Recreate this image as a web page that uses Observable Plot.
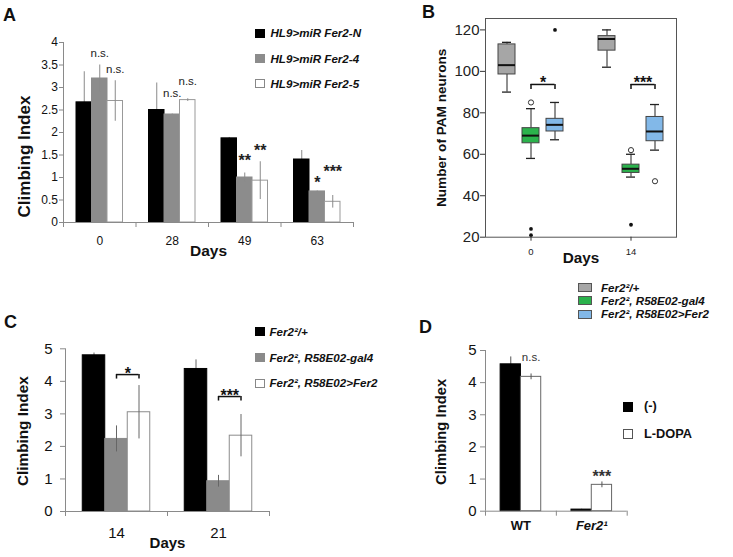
<!DOCTYPE html>
<html><head><meta charset="utf-8">
<script src="https://cdn.jsdelivr.net/npm/d3@7"></script>
<script src="https://cdn.jsdelivr.net/npm/@observablehq/plot@0.6"></script>
<style>
body{margin:0;background:#fff;}
#fig{position:relative;width:733px;height:557px;overflow:hidden;background:#fff;font-family:"Liberation Sans",Arial,Helvetica,sans-serif;color:#111;}
.abs{position:absolute;white-space:nowrap;line-height:1;}
.sw{position:absolute;box-sizing:border-box;}
</style></head><body><div id="fig"></div>
<script>
// ===================== DATA =====================
// Panel A - climbing index of HL9>miR Fer2 lines
const daysA = ["0", "28", "49", "63"];
const seriesA = ["HL9>miR Fer2-N", "HL9>miR Fer2-4", "HL9>miR Fer2-5"];
const meanA_N = [2.67, 2.50, 1.87, 1.40];
const semA_N  = [0.68, 0.60, 0.02, 0.20];
const meanA_4 = [3.20, 2.40, 1.00, 0.69];
const semA_4  = [0.30, 0.01, 0.10, 0.01];
const meanA_5 = [2.70, 2.72, 0.93, 0.46];
const semA_5  = [0.45, 0.03, 0.42, 0.14];
const sigA_4  = ["n.s.", "n.s.", "**", "*"];
const sigA_5  = ["n.s.", "n.s.", "**", "***"];
const yTicksA = [0, 0.5, 1, 1.5, 2, 2.5, 3, 3.5, 4];

// Panel B - number of PAM neurons (box plots)
const daysB = [0, 14];
const genotypes = ["Fer2²/+", "Fer2², R58E02-gal4", "Fer2², R58E02>Fer2"];
const minB_ctrl = [90, 102],   q1B_ctrl = [98.5, 110],  medB_ctrl = [103, 115.6], q3B_ctrl = [113, 117],  maxB_ctrl = [114, 120];
const minB_gal4 = [58, 49],    q1B_gal4 = [65.3, 51],   medB_gal4 = [69, 53],     q3B_gal4 = [72.6, 55], maxB_gal4 = [82, 60];
const minB_resc = [67, 62],    q1B_resc = [71, 66.3],   medB_resc = [74.2, 71],   q3B_resc = [77.1, 78], maxB_resc = [85, 84];
const openB_day = [0, 14, 14], openB_geno = [1, 1, 2], openB_val = [85, 62, 47];
const farB_day = [0, 0, 0, 14], farB_geno = [1, 1, 2, 1], farB_val = [24, 21, 120, 26];
const sigB = ["*", "***"];
const yTicksB = [20, 40, 60, 80, 100, 120];

// Panel C - climbing index, rescue
const daysC = ["14", "21"];
const meanC_ctrl = [4.80, 4.38], semC_ctrl = [0.07, 0.28];
const meanC_gal4 = [2.23, 0.93], semC_gal4 = [0.40, 0.18];
const meanC_resc = [3.05, 2.33], semC_resc = [0.82, 0.65];
const sigC = ["*", "***"];
const yTicksC = [0, 1, 2, 3, 4, 5];

// Panel D - L-DOPA feeding
const groupsD = ["WT", "Fer2¹"];
const treatD = ["(-)", "L-DOPA"];
const meanD_none = [4.57, 0.05], semD_none = [0.23, 0.01];
const meanD_dopa = [4.18, 0.82], semD_dopa = [0.09, 0.09];
const sigD = ["n.s.", "***"];
const yTicksD = [0, 1, 2, 3, 4, 5];

// ===================== HELPERS =====================
const FONT = '"Liberation Sans", Arial, Helvetica, sans-serif';
const fig = document.getElementById("fig");
const fmt = d => String(d);
function put(node, left, top) {
  node.style.position = "absolute";
  node.style.left = left + "px";
  node.style.top = top + "px";
  fig.appendChild(node);
  return node;
}
function htmlText(str, left, top, css) {
  const d = document.createElement("div");
  d.className = "abs";
  d.textContent = str;
  Object.assign(d.style, css || {});
  return put(d, left, top);
}
function legend(items, fills, strokes, swX, swW, swH, textX, ys, fs, italic) {
  items.forEach((t, i) => {
    const sw = document.createElement("div");
    sw.className = "sw";
    Object.assign(sw.style, {width: swW + "px", height: swH + "px", background: fills[i], border: "1px solid " + strokes[i]});
    put(sw, swX, ys[i] - swH / 2);
    htmlText(t, textX, ys[i] - fs / 2, {fontSize: fs + "px", fontWeight: "bold", fontStyle: italic ? "italic" : "normal"});
  });
}
function sigMark(x, yv, label, dx, lift, fs, fill) {
  const star = label.includes("*");
  const corr = star ? 0.255 * fs : -0.06 * fs;
  return Plot.text([label], {x: () => x, y: () => yv, text: d => d, dx, dy: -lift + corr,
    fontSize: fs, fontWeight: star ? "bold" : "normal", fill});
}
function bracket(x, base, dxA, dxB, lift, bw, leg, label, fs, textGap) {
  const st = {stroke: "#111", strokeWidth: 1.5};
  return [
    Plot.ruleY([0], {y: () => base, x1: () => x, x2: () => x, insetLeft: bw / 2 + dxA, insetRight: bw / 2 - dxB, dy: -lift, ...st}),
    Plot.ruleX([0], {x: () => x, y1: () => base, y2: () => base, dx: dxA, dy: -lift, insetBottom: -leg, ...st}),
    Plot.ruleX([0], {x: () => x, y1: () => base, y2: () => base, dx: dxB, dy: -lift, insetBottom: -leg, ...st}),
    sigMark(x, base, label, (dxA + dxB) / 2, lift + textGap, fs, "#111")
  ];
}
function yTitle(str, dx, dy, fs) {
  return Plot.text([str], {text: d => d, frameAnchor: "left", textAnchor: "middle", rotate: -90, dx, dy, fontWeight: "bold", fontSize: fs, fill: "#111"});
}
const svgStyle = {fontFamily: FONT, background: "transparent", overflow: "visible", color: "#111"};

// grouped bar panel (A, C, D)
function barPanel(c) {
  const bw = (c.width - c.ml - c.mr) / c.cats.length;
  const n = c.means.length;
  const off = i => (i - (n - 1) / 2) * c.barW;
  const marks = [];
  c.means.forEach((m, i) => {
    const rows = c.cats.map((cat, j) => ({cat, v: m[j], e: c.sems[i][j]}));
    const bar = Plot.barY(rows, {x: "cat", y: "v", fill: c.fills[i], stroke: c.strokes[i], strokeWidth: 1,
      insetLeft: bw / 2 + off(i) - c.barW / 2, insetRight: bw / 2 - off(i) - c.barW / 2});
    const err = Plot.ruleX(rows, {x: "cat", y1: r => r.v - r.e, y2: r => r.v + r.e, dx: off(i), stroke: c.errStroke, strokeWidth: 1});
    if (c.fills[i] === "#000") marks.push(err, bar); else marks.push(bar, err);
  });
  const ax = {stroke: c.axisStroke};
  marks.push(Plot.ruleY([0], ax));
  marks.push(Plot.ruleX([c.cats[0]], {x: d => d, dx: -bw / 2, ...ax}));
  marks.push(Plot.ruleX(c.cats, {x: d => d, y1: () => 0, y2: () => 0, dx: -bw / 2, insetBottom: -5, ...ax}));
  marks.push(Plot.ruleX([c.cats[c.cats.length - 1]], {x: d => d, y1: () => 0, y2: () => 0, dx: bw / 2, insetBottom: -5, ...ax}));
  marks.push(Plot.axisY({ticks: c.yTicks, tickFormat: fmt, tickSize: c.yTickSize, tickPadding: c.yTickPad, fontSize: c.yFs, stroke: c.axisStroke, fill: "#111", label: null}));
  return {bw, off, marks};
}

// ===================== PANEL A =====================
{
  const cfg = {cats: daysA, means: [meanA_N, meanA_4, meanA_5], sems: [semA_N, semA_4, semA_5],
    fills: ["#000", "#8c8c8c", "#fff"], strokes: ["#000", "#8c8c8c", "#999"], errStroke: "#8a8a8a", axisStroke: "#8a8a8a",
    width: 370, height: 270, ml: 63, mr: 17, mt: 42, mb: 48, barW: 15.5, yTicks: yTicksA, yTickSize: 4, yTickPad: 1.5, yFs: 12};
  const P = barPanel(cfg);
  const liftA_4 = [11, 20.5, 16, 12], liftA_5 = [11, 16.5, 15, 28];
  daysA.forEach((d, j) => {
    P.marks.push(sigMark(d, meanA_4[j] + semA_4[j], sigA_4[j], P.off(1), liftA_4[j], sigA_4[j].includes("*") ? 16 : 11.5, "#222"));
    P.marks.push(sigMark(d, meanA_5[j] + semA_5[j], sigA_5[j], P.off(2), liftA_5[j], sigA_5[j].includes("*") ? 16 : 11.5, "#222"));
  });
  P.marks.push(Plot.axisX({tickSize: 0, tickPadding: 13.8, fontSize: 12, fill: "#111", label: null}));
  P.marks.push(Plot.text(["Days"], {text: d => d, frameAnchor: "bottom", dy: 33, fontWeight: "bold", fontSize: 15.5}));
  P.marks.push(yTitle("Climbing Index", -39, 24, 17));
  const svg = Plot.plot({width: cfg.width, height: cfg.height, marginLeft: cfg.ml, marginRight: cfg.mr, marginTop: cfg.mt, marginBottom: cfg.mb,
    x: {type: "band", domain: daysA, padding: 0, round: false}, y: {domain: [0, 4], label: null}, style: svgStyle, marks: P.marks});
  put(svg, 0, 0);
}

// ===================== PANEL B =====================
{
  const W = 363, H = 280, ml = 115, mr = 57, mt = 18, mb = 43.3;
  const pi = 0.2, po = 0.055;
  const step = (W - ml - mr) / (daysB.length - pi + 2 * po);
  const bw = step * (1 - pi);
  const spacing = 24, boxW = 17, capW = 9;
  const off = g => (g - 1) * spacing;
  const stats = [
    [minB_ctrl, q1B_ctrl, medB_ctrl, q3B_ctrl, maxB_ctrl],
    [minB_gal4, q1B_gal4, medB_gal4, q3B_gal4, maxB_gal4],
    [minB_resc, q1B_resc, medB_resc, q3B_resc, maxB_resc]
  ];
  const fillsB = ["#a6a6a6", "#2bb24c", "#82b8e8"];
  const marks = [];
  stats.forEach((s, g) => {
    const o = off(g);
    const rows = daysB.map((d, j) => ({day: d, min: s[0][j], q1: s[1][j], med: s[2][j], q3: s[3][j], max: s[4][j]}));
    const ins = w => ({insetLeft: bw / 2 + o - w / 2, insetRight: bw / 2 - o - w / 2});
    marks.push(Plot.ruleX(rows, {x: "day", y1: "min", y2: "q1", dx: o, stroke: "#222"}));
    marks.push(Plot.ruleX(rows, {x: "day", y1: "q3", y2: "max", dx: o, stroke: "#222"}));
    marks.push(Plot.ruleY(rows, {y: "min", x1: "day", x2: "day", ...ins(capW), stroke: "#222", strokeWidth: 1.3}));
    marks.push(Plot.ruleY(rows, {y: "max", x1: "day", x2: "day", ...ins(capW), stroke: "#222", strokeWidth: 1.3}));
    marks.push(Plot.barY(rows, {x: "day", y1: "q1", y2: "q3", fill: fillsB[g], stroke: "#444", strokeWidth: 1, ...ins(boxW)}));
    marks.push(Plot.ruleY(rows, {y: "med", x1: "day", x2: "day", ...ins(boxW), stroke: "#111", strokeWidth: 2}));
    const open = openB_day.map((d, i) => ({day: d, g: openB_geno[i], v: openB_val[i]})).filter(r => r.g === g);
    const far = farB_day.map((d, i) => ({day: d, g: farB_geno[i], v: farB_val[i]})).filter(r => r.g === g);
    marks.push(Plot.dot(open, {x: "day", y: "v", dx: o, r: 2.6, stroke: "#333", fill: "#fff", strokeWidth: 1}));
    marks.push(Plot.dot(far, {x: "day", y: "v", dx: o, r: 1.9, fill: "#111", stroke: "none"}));
  });
  const liftB = [18, 20];
  daysB.forEach((d, j) => {
    const base = Math.max(maxB_gal4[j], maxB_resc[j]);
    marks.push(...bracket(d, base, off(1), off(2), liftB[j], bw, 5, sigB[j], 16, 6));
  });
  marks.push(Plot.frame({stroke: "#555"}));
  marks.push(Plot.axisY({ticks: yTicksB, tickFormat: fmt, tickSize: 5, tickPadding: 1, fontSize: 15, stroke: "#333", fill: "#222", label: null}));
  marks.push(Plot.axisX({tickSize: 4, tickPadding: 7, fontSize: 9.5, stroke: "#333", fill: "#222", label: null}));
  marks.push(Plot.text(["Days"], {text: d => d, frameAnchor: "bottom", dy: 25.3, fontWeight: "bold", fontSize: 15.3, fill: "#111"}));
  marks.push(yTitle("Number of PAM neurons", -44, 0, 13.6));
  const svg = Plot.plot({width: W, height: H, marginLeft: ml, marginRight: mr, marginTop: mt, marginBottom: mb,
    x: {type: "band", domain: daysB, paddingInner: pi, paddingOuter: po, round: false}, y: {domain: [20, 125.5], label: null},
    style: svgStyle, marks});
  put(svg, 370, 0);
}

// ===================== PANEL C =====================
{
  const cfg = {cats: daysC, means: [meanC_ctrl, meanC_gal4, meanC_resc], sems: [semC_ctrl, semC_gal4, semC_resc],
    fills: ["#000", "#8a8a8a", "#fff"], strokes: ["#000", "#8a8a8a", "#8c8c8c"], errStroke: "#666", axisStroke: "#8a8a8a",
    width: 370, height: 277, ml: 65, mr: 101, mt: 68.3, mb: 46, barW: 22.5, yTicks: yTicksC, yTickSize: 5, yTickPad: 8, yFs: 15};
  const P = barPanel(cfg);
  const liftC = [11, 18];
  daysC.forEach((d, j) => {
    const base = Math.max(meanC_gal4[j] + semC_gal4[j], meanC_resc[j] + semC_resc[j]);
    P.marks.push(...bracket(d, base, P.off(1), P.off(2), liftC[j], P.bw, 4.5, sigC[j], 16, 4.5));
  });
  P.marks.push(Plot.axisX({tickSize: 0, tickPadding: 15.5, fontSize: 15, fill: "#111", label: null}));
  P.marks.push(Plot.text(["Days"], {text: d => d, frameAnchor: "bottom", dy: 36, fontWeight: "bold", fontSize: 15}));
  P.marks.push(yTitle("Climbing Index", -42, 1, 15.3));
  const svg = Plot.plot({width: cfg.width, height: cfg.height, marginLeft: cfg.ml, marginRight: cfg.mr, marginTop: cfg.mt, marginBottom: cfg.mb,
    x: {type: "band", domain: daysC, padding: 0, round: false}, y: {domain: [0, 5], label: null}, style: svgStyle, marks: P.marks});
  put(svg, 0, 280);
}

// ===================== PANEL D =====================
{
  const cfg = {cats: groupsD, means: [meanD_none, meanD_dopa], sems: [semD_none, semD_dopa],
    fills: ["#000", "#fff"], strokes: ["#000", "#666"], errStroke: "#555", axisStroke: "#8a8a8a",
    width: 363, height: 277, ml: 115, mr: 106.3, mt: 70, mb: 46.3, barW: 20.3, yTicks: yTicksD, yTickSize: 5, yTickPad: 4, yFs: 15};
  const P = barPanel(cfg);
  const liftD = [15.5, 9.5];
  groupsD.forEach((g, j) => {
    P.marks.push(sigMark(g, meanD_dopa[j] + semD_dopa[j], sigD[j], P.off(1), liftD[j], sigD[j].includes("*") ? 16 : 11.5, "#333"));
  });
  P.marks.push(Plot.text(groupsD, {filter: d => d === groupsD[0], x: d => d, text: d => d, frameAnchor: "bottom", dy: 19, fontWeight: "bold", fontSize: 13}));
  P.marks.push(Plot.text(groupsD, {filter: d => d !== groupsD[0], x: d => d, text: d => d, frameAnchor: "bottom", dy: 19, fontWeight: "bold", fontStyle: "italic", fontSize: 13}));
  P.marks.push(yTitle("Climbing Index", -44, 1, 14.8));
  const svg = Plot.plot({width: cfg.width, height: cfg.height, marginLeft: cfg.ml, marginRight: cfg.mr, marginTop: cfg.mt, marginBottom: cfg.mb,
    x: {type: "band", domain: groupsD, padding: 0, round: false, axis: null}, y: {domain: [0, 5], label: null}, style: svgStyle, marks: P.marks});
  put(svg, 370, 280);
}

// ===================== LEGENDS & PANEL LETTERS =====================
legend(seriesA, ["#000", "#8c8c8c", "#fff"], ["#000", "#8c8c8c", "#888"], 255, 10, 9, 270.5, [33, 58.5, 83.5], 11.6, true);
legend(genotypes, ["#a6a6a6", "#2bb24c", "#82b8e8"], ["#555", "#555", "#555"], 578, 14, 9, 601, [287.5, 300.7, 314], 11.6, true);
legend(genotypes, ["#000", "#8a8a8a", "#fff"], ["#000", "#8a8a8a", "#888"], 255, 10, 9, 269.5, [331.7, 357.5, 383], 11.6, true);
legend(treatD, ["#000", "#fff"], ["#000", "#555"], 623, 10, 10, 644, [406.7, 434], 12.8, false);

const letterCss = {fontSize: "18px", fontWeight: "bold"};
htmlText("A", 3, 5.7, letterCss);
htmlText("B", 422, 2.7, letterCss);
htmlText("C", 4, 312.7, letterCss);
htmlText("D", 419, 317.5, letterCss);
</script>
</body></html>
